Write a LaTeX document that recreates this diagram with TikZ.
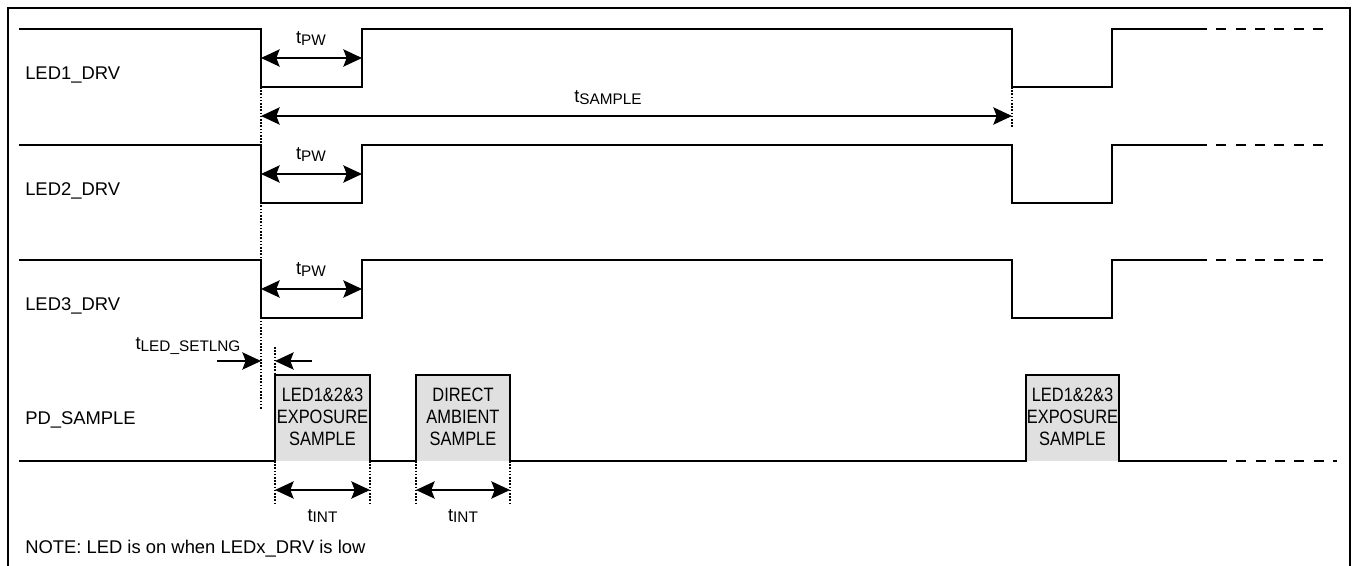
\documentclass[tikz,border=0pt]{standalone}
\usepackage{fontspec}
\setmainfont{Liberation Sans}
\newfontfamily\narrowfont{Liberation Sans}[FakeStretch=0.85]
\usetikzlibrary{arrows.meta}
\newcommand{\tsym}[1]{t\raisebox{-0.2ex}{\fontsize{11.5}{11.5}\selectfont #1}}

\begin{document}
\begin{tikzpicture}[x=0.75pt, y=-0.75pt,
  every node/.style={font=\fontsize{13.8}{16}\selectfont, inner sep=0pt},
  sig/.style={line width=1.3pt},
  cont/.style={line width=1.3pt, dash pattern=on 7.5pt off 7pt},
  guide/.style={line width=0.9pt, dash pattern=on 1.2pt off 1.2pt},
  dim/.style={line width=1.1pt, {Stealth[length=14pt,width=13pt,inset=2.5pt]}-{Stealth[length=14pt,width=13pt,inset=2.5pt]}},
  tip/.style={line width=1.1pt, -{Stealth[length=14pt,width=13pt,inset=2.5pt]}},
  smpbox/.style={align=center, font=\narrowfont\fontsize{14.5}{16.5}\selectfont}]
\useasboundingbox (0,0) rectangle (1353,566);
\draw[line width=1.8pt] (8,8) rectangle (1350,580);

% LED drive waveforms
\foreach \y/\n in {29/1,145/2,260/3}{
  \draw[sig] (19,\y) -| (261,\y+58) -| (362,\y) -| (1012,\y+58) -| (1112,\y) -- (1197,\y);
  \draw[cont] (1197,\y) -- (1323,\y);
  \node[anchor=base west] (led\n) at (25,\y+51) {LED\n\_DRV};
  \coordinate (pwa\n) at (261,\y+29);
  \coordinate (pwb\n) at (362,\y+29);
  \draw[dim] (pwa\n) -- (pwb\n);
  \node[anchor=base] (pw\n) at (311,\y+15) {\tsym{PW}};
}

% sample period
\coordinate (sa) at (261,116);
\coordinate (sb) at (1012,116);
\draw[guide] (261,87) -- (261,410);
\draw[guide] (1012,87) -- (1012,127);
\draw[dim] (sa) -- (sb);
\node[anchor=base] (tsmp) at (608,103) {\tsym{SAMPLE}};

% PD sample
\fill[black!12] (275,375) rectangle (370,461);
\fill[black!12] (416,375) rectangle (510,461);
\fill[black!12] (1026,375) rectangle (1119,461);
\draw[sig] (19,461) -| (275,375) -| (370,461) -| (416,375) -| (510,461) -| (1026,375) -| (1119,461) -- (1217,461);
\draw[cont] (1217,461) -- (1337,461);
\node[anchor=base west] (pd) at (25,425) {PD\_SAMPLE};
\node[smpbox] (exp1) at (322.5,417) {LED1\&2\&3\\EXPOSURE\\SAMPLE};
\node[smpbox] (amb) at (463,417) {DIRECT\\AMBIENT\\SAMPLE};
\node[smpbox] (exp2) at (1072.5,417) {LED1\&2\&3\\EXPOSURE\\SAMPLE};

% settling time
\draw[guide] (275,347) -- (275,375);
\coordinate (sl1) at (217,361);
\coordinate (sl2) at (261,361);
\coordinate (sr1) at (312,361);
\coordinate (sr2) at (275,361);
\draw[tip] (sl1) -- (sl2);
\draw[tip] (sr1) -- (sr2);
\node[anchor=base] (tset) at (188,350) {\tsym{LED\_SETLNG}};

% integration time
\foreach \x in {275,370,416,510}
  \draw[guide] (\x,461) -- (\x,503);
\coordinate (ia1) at (275,490);
\coordinate (ib1) at (370,490);
\coordinate (ia2) at (416,490);
\coordinate (ib2) at (510,490);
\draw[dim] (ia1) -- (ib1);
\draw[dim] (ia2) -- (ib2);
\node[anchor=base] (int1) at (322.5,521) {\tsym{INT}};
\node[anchor=base] (int2) at (463,521) {\tsym{INT}};

\node[anchor=base west] (note) at (25,553) {NOTE: LED is on when LEDx\_DRV is low};
\end{tikzpicture}
\end{document}
